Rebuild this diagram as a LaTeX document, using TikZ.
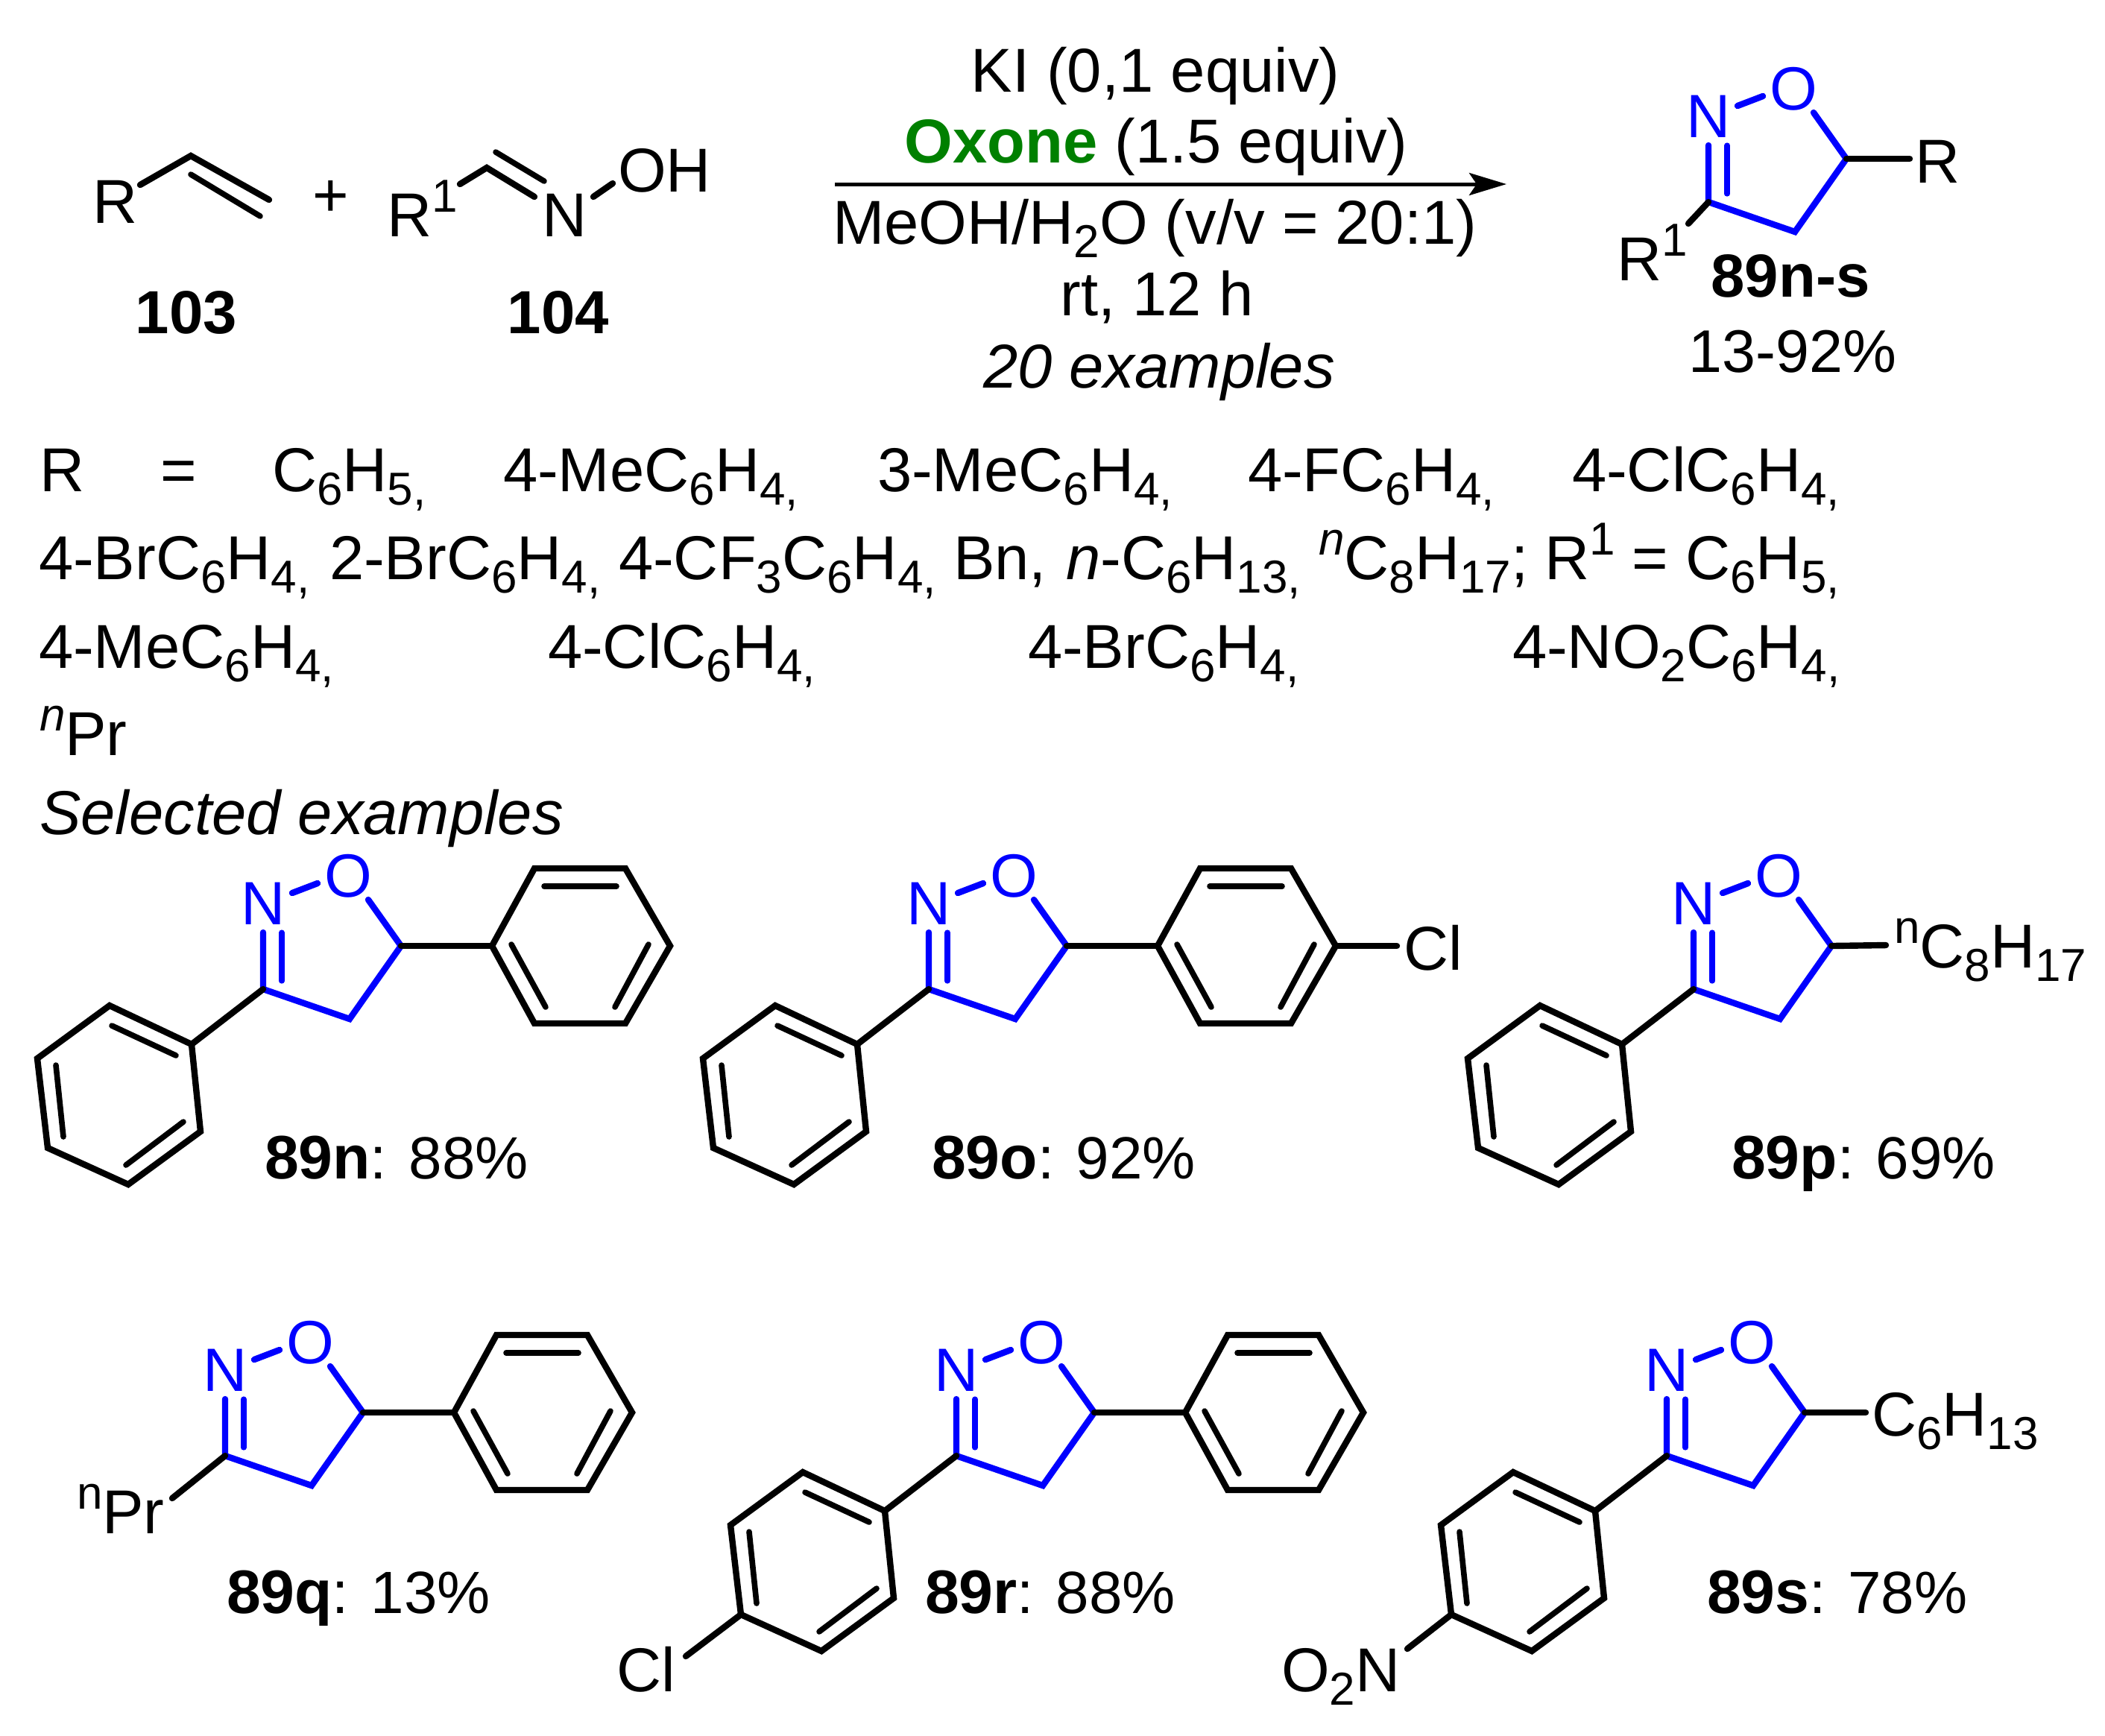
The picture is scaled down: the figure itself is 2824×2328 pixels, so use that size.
\documentclass[tikz,border=0pt]{standalone}
\usepackage{fontspec}
\setmainfont{Liberation Sans}
\usetikzlibrary{arrows.meta}
\newcommand{\chemdn}[1]{\raisebox{-4.5pt}{\fontsize{15.5}{17}\selectfont #1}}
\newcommand{\chemup}[1]{\raisebox{8.2pt}{\fontsize{15.5}{17}\selectfont #1}}
\newcommand{\cmpd}[2]{{\fontsize{20.6}{24}\selectfont\textbf{#1}}: #2}
\definecolor{isoblue}{RGB}{0,0,255}
\definecolor{oxgreen}{RGB}{0,128,0}
\tikzset{
  x=0.25pt, y=-0.25pt,
  chembond/.style={line width=2.1pt, line cap=round, line join=miter, draw=black},
  innerbond/.style={line width=1.9pt, line cap=round, draw=black},
  bluebond/.style={line width=2.1pt, line cap=round, line join=miter, draw=isoblue},
  blueinner/.style={line width=1.8pt, line cap=round, draw=isoblue},
  txt/.style={anchor=base west, inner sep=0pt, outer sep=0pt, font=\fontsize{20.8}{24}\selectfont},
  ctxt/.style={anchor=base, inner sep=0pt, outer sep=0pt, font=\fontsize{20.8}{24}\selectfont},
  boldnum/.style={anchor=base, inner sep=0pt, outer sep=0pt, font=\fontsize{20.4}{24}\selectfont\bfseries},
  labeltxt/.style={anchor=base west, inner sep=0pt, outer sep=0pt, font=\fontsize{20}{24}\selectfont},
  atom/.style={anchor=center, inner sep=0pt, outer sep=0pt, text=isoblue, font=\fontsize{20.5}{24}\selectfont},
  pics/isox/.style={code={
    \coordinate (-C5) at (0,0);
    \coordinate (-C3) at (-185,58);
    \coordinate (-CH) at (-69,98);
    \node[atom] (-N) at (-185,-57) {N};
    \node[atom] (-O) at (-71,-94) {O};
    \coordinate (-a) at (-44,-62);
    \coordinate (-b) at (-185,-18);
    \coordinate (-c) at (-160,-18);
    \coordinate (-d) at (-160,47);
    \coordinate (-e) at (-146,-71);
    \coordinate (-f) at (-112,-84);
    \draw[bluebond] (-a) -- (-C5) -- (-CH) -- (-C3) -- (-b);
    \draw[blueinner] (-c) -- (-d);
    \draw[bluebond] (-e) -- (-f);
  }},
  pics/phright/.style={code={
    \coordinate (-C5) at (0,0);
    \coordinate (-i) at (122,0);
    \coordinate (-tl) at (179,-104);
    \coordinate (-tr) at (301,-104);
    \coordinate (-r) at (361,0);
    \coordinate (-br) at (301,104);
    \coordinate (-bl) at (179,104);
    \draw[chembond] (-C5) -- (-i);
    \draw[chembond] (-i) -- (-tl) -- (-tr) -- (-r) -- (-br) -- (-bl) -- cycle;
    \draw[innerbond] (192,-80) -- (289,-80);
    \draw[innerbond] (148,-2) -- (194,82);
    \draw[innerbond] (332,-2) -- (287,82);
  }},
  pics/phleft/.style={code={
    \coordinate (-C3) at (-185,58);
    \coordinate (-i) at (-281,132);
    \coordinate (-a) at (-391,80);
    \coordinate (-b) at (-488,151);
    \coordinate (-c) at (-474,271);
    \coordinate (-d) at (-366,320);
    \coordinate (-e) at (-269,249);
    \draw[chembond] (-C3) -- (-i);
    \draw[chembond] (-i) -- (-a) -- (-b) -- (-c) -- (-d) -- (-e) -- cycle;
    \draw[innerbond] (-388,107) -- (-302,147);
    \draw[innerbond] (-463,160) -- (-453,256);
    \draw[innerbond] (-369,294) -- (-292,236);
  }},
}
\begin{document}
\begin{tikzpicture}
\useasboundingbox (0,0) rectangle (2824,2328);

% reactant 103
\node[txt] (r103R) at (124,299) {R};
\coordinate (a1) at (188,248);
\coordinate (a2) at (256,209);
\coordinate (a3) at (361,268);
\coordinate (a4) at (256,234);
\coordinate (a5) at (349,290);
\draw[chembond] (a1) -- (a2) -- (a3);
\draw[innerbond] (a4) -- (a5);
\node[ctxt] (plus) at (444,290) {+};
\node[boldnum] (l103) at (250,447) {103};

% reactant 104
\node[txt] (r104R) at (519,317) {R\chemup{1}};
\coordinate (b1) at (617,247);
\coordinate (b2) at (653,225);
\coordinate (b3) at (717,264);
\coordinate (b4) at (665,204);
\coordinate (b5) at (730,243);
\draw[chembond] (b1) -- (b2) -- (b3);
\draw[innerbond] (b4) -- (b5);
\node[txt] (r104N) at (727,317) {N};
\coordinate (b6) at (796,264);
\coordinate (b7) at (822,246);
\draw[chembond] (b6) -- (b7);
\node[txt] (r104OH) at (829,257) {OH};
\node[boldnum] (l104) at (749,447) {104};

% conditions
\node[ctxt] (c1) at (1550,123) {KI (0,1 equiv)};
\node[ctxt] (c2) at (1551,218) {\textcolor{oxgreen}{\textbf{Oxone}} (1.5 equiv)};
\coordinate (arS) at (1120,247);
\coordinate (arE) at (2021,247);
\draw[line width=1.25pt, -{Stealth[length=12.5pt,width=7.5pt,inset=2.5pt]}] (arS) -- (arE);
\node[txt] (c3) at (1117,327) {MeOH/H\chemdn{2}O (v/v = 20:1)};
\node[ctxt] (c4) at (1552,423) {rt, 12 h};
\node[ctxt] (c5) at (1555,520) {\textit{20 examples}};

% product
\pic (P) at (2477,213) {isox};
\coordinate (Pr) at (2562,213);
\coordinate (Pq) at (2265,300);
\draw[chembond] (P-C5) -- (Pr);
\draw[chembond] (P-C3) -- (Pq);
\node[txt] (PR) at (2569,245) {R};
\node[txt] (PR1) at (2169,376) {R\chemup{1}};
\node[boldnum] (Pl) at (2402,398) {89n-s};
\node[ctxt, font=\fontsize{20.2}{24}\selectfont] (Py) at (2405,499) {13-92\%};

% R list
\node[txt] (t1) at (53,659) {R};
\node[txt] (t2) at (215,659) {=};
\node[txt] (t3) at (365,659) {C\chemdn{6}H\chemdn{5,}};
\node[txt] (t4) at (675,659) {4-MeC\chemdn{6}H\chemdn{4,}};
\node[txt] (t5) at (1177,659) {3-MeC\chemdn{6}H\chemdn{4,}};
\node[txt] (t6) at (1674,659) {4-FC\chemdn{6}H\chemdn{4,}};
\node[txt] (t7) at (2109,659) {4-ClC\chemdn{6}H\chemdn{4,}};
\node[txt] (u1) at (52,777) {4-BrC\chemdn{6}H\chemdn{4,}};
\node[txt] (u2) at (442,777) {2-BrC\chemdn{6}H\chemdn{4,}};
\node[txt] (u3) at (830,777) {4-CF\chemdn{3}C\chemdn{6}H\chemdn{4,}};
\node[txt] (u4) at (1279,777) {Bn,};
\node[txt] (u5) at (1430,777) {\textit{n}-C\chemdn{6}H\chemdn{13,}};
\node[txt] (u6) at (1769,777) {\chemup{\textit{n}}C\chemdn{8}H\chemdn{17}\raisebox{0pt}{;}};
\node[txt] (u7) at (2072,777) {R\chemup{1} = C\chemdn{6}H\chemdn{5,}};
\node[txt] (v1) at (52,896) {4-MeC\chemdn{6}H\chemdn{4,}};
\node[txt] (v2) at (735,896) {4-ClC\chemdn{6}H\chemdn{4,}};
\node[txt] (v3) at (1379,896) {4-BrC\chemdn{6}H\chemdn{4,}};
\node[txt] (v4) at (2029,896) {4-NO\chemdn{2}C\chemdn{6}H\chemdn{4,}};
\node[txt] (w1) at (53,1013) {\chemup{\textit{n}}Pr};
\node[txt] (w2) at (53,1119) {\textit{Selected examples}};

% 89n
\pic (n) at (538,1269) {isox};
\pic (nR) at (538,1269) {phright};
\pic (nL) at (538,1269) {phleft};
\node[labeltxt] (nl) at (355,1581) {\cmpd{89n}{88\%}};

% 89o
\pic (o) at (1431,1269) {isox};
\pic (oR) at (1431,1269) {phright};
\pic (oL) at (1431,1269) {phleft};
\coordinate (oX) at (1874,1269);
\draw[chembond] (oR-r) -- (oX);
\node[txt] (oCl) at (1883,1301) {Cl};
\node[labeltxt] (ol) at (1250,1581) {\cmpd{89o}{92\%}};

% 89p
\pic (p) at (2457,1269) {isox};
\pic (pL) at (2457,1269) {phleft};
\coordinate (pX) at (2530,1268);
\draw[chembond] (p-C5) -- (pX);
\node[txt] (pC) at (2541,1298) {\chemup{n}C\chemdn{8}H\chemdn{17}};
\node[labeltxt] (pl) at (2323,1581) {\cmpd{89p}{69\%}};

% 89q
\pic (q) at (487,1895) {isox};
\pic (qR) at (487,1895) {phright};
\coordinate (qX) at (231,2010);
\draw[chembond] (q-C3) -- (qX);
\node[txt] (qP) at (103,2057) {\chemup{n}Pr};
\node[labeltxt] (ql) at (304,2164) {\cmpd{89q}{13\%}};

% 89r
\pic (r) at (1468,1895) {isox};
\pic (rR) at (1468,1895) {phright};
\pic (rL) at (1468,1895) {phleft};
\coordinate (rX) at (920,2222);
\draw[chembond] (rL-c) -- (rX);
\node[txt] (rCl) at (827,2269) {Cl};
\node[labeltxt] (rl) at (1241,2164) {\cmpd{89r}{88\%}};

% 89s
\pic (s) at (2421,1895) {isox};
\pic (sL) at (2421,1895) {phleft};
\coordinate (sX) at (2503,1895);
\draw[chembond] (s-C5) -- (sX);
\coordinate (sY) at (1888,2212);
\draw[chembond] (sL-c) -- (sY);
\node[txt] (sC) at (2511,1926) {C\chemdn{6}H\chemdn{13}};
\node[txt] (sN) at (1719,2269) {O\chemdn{2}N};
\node[labeltxt] (sl) at (2290,2164) {\cmpd{89s}{78\%}};
\end{tikzpicture}
\end{document}
